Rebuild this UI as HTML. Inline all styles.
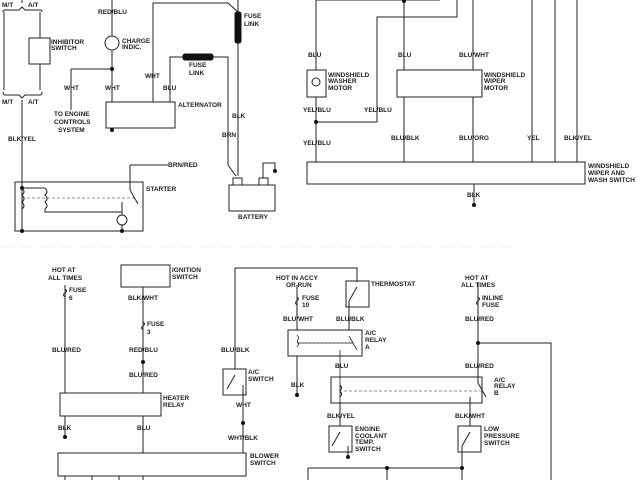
<!DOCTYPE html>
<html><head><meta charset="utf-8"><style>
html,body{margin:0;padding:0;background:#fff;width:640px;height:480px;overflow:hidden}
svg text{font-family:"Liberation Sans",sans-serif;font-size:6.5px;fill:#222;font-weight:bold}
</style></head><body>
<svg width="640" height="480" viewBox="0 0 640 480" xmlns="http://www.w3.org/2000/svg">
<g stroke="#222" stroke-width="1" fill="none">
<path d="M3,12 Q3,10 5,10 L19,10 L22,7 L25,10 L40,10 Q42,10 42,12"/>
<path d="M4,12 V90 M40,12 V38 M40,64 V90"/>
<path d="M3,92 Q3,95 5,95 L19,95 L22,98 L25,95 L40,95 Q42,95 42,92"/>
<rect x="29" y="38" width="21" height="26"/>
<path d="M22,0 V3 M22,100 V232"/>
<rect x="15" y="182" width="128" height="49"/>
<path d="M22,188 H45 M22,188 Q26,192 22,195 Q26,199 22,202 Q26,206 22,209 M45,188 Q49,192 45,195 Q49,199 45,202 Q49,206 45,209 M45,209 V212 H122 V202"/>
<path d="M22,198 H136" stroke-dasharray="3,2" stroke-width="0.6"/>
<path d="M130,165 V190 L138,204 M130,165 H168"/>
<circle cx="122" cy="220" r="5"/>
<path d="M122,212 V215 M122,225 V231"/>
<path d="M112,0 V36 M112,50 V102 M71,69 H112 M71,69 V110"/>
<circle cx="112" cy="43" r="7"/>
<rect x="106" y="102" width="69" height="26"/>
<path d="M153,102 V3 H228 L238,12 M238,0 V176 M170,102 V57 H228 V165 L236,176"/>
<rect x="229" y="185" width="46" height="26"/>
<rect x="233" y="178" width="9" height="7"/><rect x="259" y="178" width="9" height="7"/>
<path d="M263,178 V163 H275 V170"/>
<path d="M316,0 H440 M316,0 V70 M316,97 V162 M404,0 V70 M404,97 V162 M457,0 V17 H377 V122 H316 M473,0 V70 M473,97 V162 M532,0 V162 M555,0 V162 M577,0 V162 M474,184 V205"/>
<rect x="307" y="70" width="19" height="27"/>
<rect x="397" y="70" width="85" height="27"/>
<rect x="307" y="162" width="278" height="22"/>
<circle cx="316" cy="82" r="4"/>
<path d="M0,247 H520" stroke="#e6e6e6" stroke-dasharray="14,6" stroke-width="0.6"/>
<path d="M65,285 V393 M65,416 V437 M143,287 V393 M143,416 V453 M65,476 V480 M92,476 V480 M119,476 V480 M143,476 V480"/>
<path d="M65,289 q3,2 0,4 q-3,2 0,4"/>
<path d="M143,322 q3,2 0,4 q-3,2 0,4"/>
<rect x="121" y="265" width="49" height="22"/>
<rect x="60" y="393" width="101" height="23"/>
<rect x="58" y="453" width="188" height="23"/>
<rect x="223" y="369" width="23" height="26"/>
<path d="M235,268 H357 V282 M235,268 V369 M235,375 L227,389 M243,385 V453"/>
<rect x="346" y="281" width="23" height="26"/>
<path d="M357,287 L349,301 M349,301 V330 M297,285 V330 M297,356 V395 M297,297 q3,2 0,4 q-3,2 0,4"/>
<rect x="288" y="330" width="74" height="26"/>
<path d="M297,335 q3,3 0,6 q3,3 0,6 M297,343 H353 M349,336 L357,350 M340,350 V410" stroke-width="0.8"/>
<path d="M301,343 H353" stroke-dasharray="2,2" stroke-width="0.5"/>
<rect x="331" y="377" width="151" height="26"/>
<path d="M340,385 q3,3 0,6 q3,3 0,6 M478,283 V383 L486,397 M478,297 q3,2 0,4 q-3,2 0,4 M478,343 H551 V480 M470,397 V426 M340,403 V426"/>
<path d="M344,391 H482" stroke-dasharray="3,2" stroke-width="0.5"/>
<rect x="329" y="426" width="23" height="26"/>
<path d="M340,432 L332,446 M348,446 V458"/>
<rect x="458" y="426" width="23" height="26"/>
<path d="M470,432 L462,446 M462,446 V468 M308,468 H462 M308,468 V480 M387,468 V480 M462,468 V480"/>
</g>
<g fill="#111" stroke="#111">
<rect x="235" y="12" width="6" height="31" rx="2"/>
<rect x="183" y="54" width="30" height="6" rx="2"/>
<circle cx="112" cy="69" r="1.5"/><circle cx="112" cy="130" r="1.5"/>
<circle cx="22" cy="188" r="1.5"/><circle cx="22" cy="231" r="1.5"/><circle cx="122" cy="231" r="1.5"/>
<circle cx="275" cy="171" r="1.5"/><circle cx="404" cy="1" r="1.5"/><circle cx="316" cy="122" r="1.5"/><circle cx="474" cy="205" r="1.5"/>
<circle cx="143" cy="362" r="1.5"/><circle cx="65" cy="437" r="1.5"/><circle cx="243" cy="423" r="1.5"/>
<circle cx="297" cy="395" r="1.5"/><circle cx="478" cy="343" r="1.5"/><circle cx="348" cy="457" r="1.5"/>
<circle cx="387" cy="468" r="1.5"/><circle cx="462" cy="468" r="1.5"/>
</g>
<text x="2" y="7">M/T</text><text x="28" y="7">A/T</text>
<text x="51" y="44">INHIBITOR</text><text x="51" y="50">SWITCH</text>
<text x="2" y="104">M/T</text><text x="28" y="104">A/T</text>
<text x="8" y="141">BLK/YEL</text>
<text x="98" y="14">RED/BLU</text>
<text x="122" y="43">CHARGE</text><text x="122" y="49">INDIC.</text>
<text x="64" y="90">WHT</text><text x="105" y="90">WHT</text>
<text x="54" y="116">TO ENGINE</text><text x="54" y="124">CONTROLS</text><text x="58" y="132">SYSTEM</text>
<text x="145" y="78">WHT</text><text x="163" y="90">BLU</text>
<text x="178" y="107">ALTERNATOR</text>
<text x="244" y="18">FUSE</text><text x="244" y="26">LINK</text>
<text x="189" y="67">FUSE</text><text x="189" y="75">LINK</text>
<text x="232" y="118">BLK</text><text x="222" y="137">BRN</text>
<text x="168" y="167">BRN/RED</text><text x="146" y="191">STARTER</text>
<text x="238" y="219">BATTERY</text>
<text x="308" y="57">BLU</text><text x="398" y="57">BLU</text><text x="459" y="57">BLU/WHT</text>
<text x="328" y="77">WINDSHIELD</text><text x="328" y="83">WASHER</text><text x="328" y="90">MOTOR</text>
<text x="484" y="77">WINDSHIELD</text><text x="484" y="83">WIPER</text><text x="484" y="90">MOTOR</text>
<text x="303" y="112">YEL/BLU</text><text x="364" y="112">YEL/BLU</text>
<text x="303" y="145">YEL/BLU</text><text x="391" y="140">BLU/BLK</text><text x="459" y="140">BLU/ORG</text>
<text x="527" y="140">YEL</text><text x="564" y="140">BLK/YEL</text>
<text x="588" y="168">WINDSHIELD</text><text x="588" y="175">WIPER AND</text><text x="588" y="182">WASH SWITCH</text>
<text x="467" y="197">BLK</text>
<text x="52" y="272">HOT AT</text><text x="48" y="280">ALL TIMES</text>
<text x="69" y="292">FUSE</text><text x="69" y="300">6</text>
<text x="172" y="272">IGNITION</text><text x="172" y="279">SWITCH</text>
<text x="128" y="300">BLK/WHT</text>
<text x="147" y="326">FUSE</text><text x="147" y="334">3</text>
<text x="52" y="352">BLU/RED</text><text x="129" y="352">RED/BLU</text><text x="129" y="377">BLU/RED</text>
<text x="163" y="400">HEATER</text><text x="163" y="407">RELAY</text>
<text x="58" y="430">BLK</text><text x="137" y="430">BLU</text>
<text x="221" y="352">BLU/BLK</text><text x="248" y="374">A/C</text><text x="248" y="381">SWITCH</text>
<text x="236" y="407">WHT</text><text x="228" y="440">WHT/BLK</text>
<text x="250" y="458">BLOWER</text><text x="250" y="465">SWITCH</text>
<text x="276" y="280">HOT IN ACCY</text><text x="286" y="287">OR RUN</text>
<text x="302" y="300">FUSE</text><text x="302" y="307">10</text>
<text x="371" y="286">THERMOSTAT</text>
<text x="283" y="321">BLU/WHT</text><text x="336" y="321">BLU/BLK</text>
<text x="365" y="335">A/C</text><text x="365" y="342">RELAY</text><text x="365" y="349">A</text>
<text x="335" y="368">BLU</text><text x="291" y="387">BLK</text>
<text x="465" y="280">HOT AT</text><text x="461" y="287">ALL TIMES</text>
<text x="482" y="300">INLINE</text><text x="482" y="307">FUSE</text>
<text x="465" y="321">BLU/RED</text><text x="465" y="368">BLU/RED</text>
<text x="494" y="382">A/C</text><text x="494" y="388">RELAY</text><text x="494" y="395">B</text>
<text x="327" y="418">BLK/YEL</text><text x="455" y="418">BLK/WHT</text>
<text x="355" y="431">ENGINE</text><text x="355" y="438">COOLANT</text><text x="355" y="444">TEMP.</text><text x="355" y="451">SWITCH</text>
<text x="484" y="431">LOW</text><text x="484" y="438">PRESSURE</text><text x="484" y="445">SWITCH</text>
</svg>
</body></html>
